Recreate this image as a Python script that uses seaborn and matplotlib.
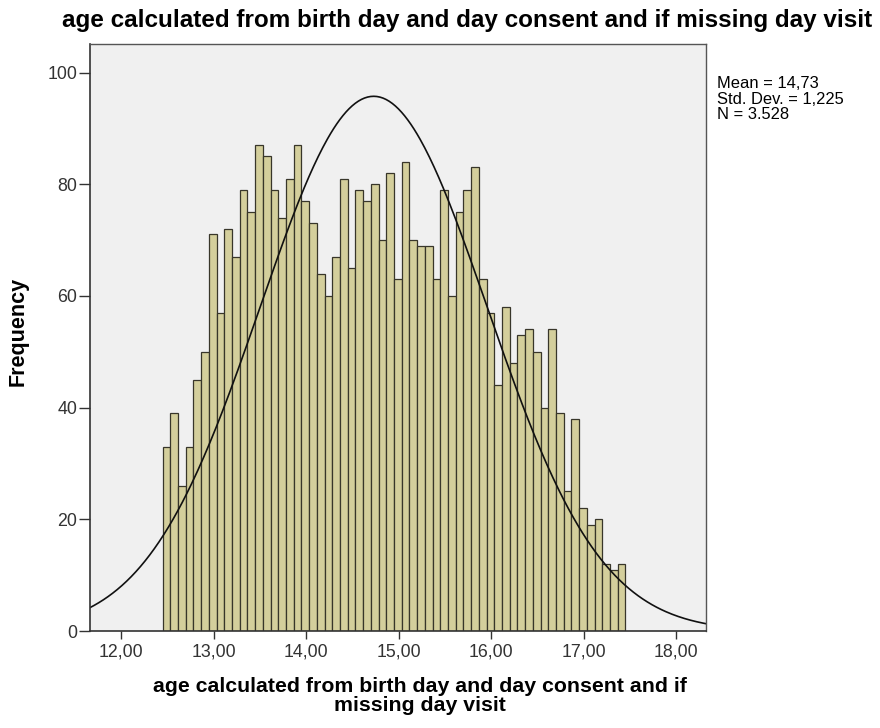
import numpy as np
import pandas as pd
import matplotlib
matplotlib.use("Agg")
import matplotlib.pyplot as plt
import seaborn as sns

# ---- data ----
counts = [33, 39, 26, 33, 45, 50, 71, 57, 72, 67, 79, 75, 87, 85, 79, 74, 81, 87, 77, 73,
          64, 60, 67, 81, 65, 79, 77, 80, 70, 82, 63, 84, 70, 69, 69, 63, 79, 60, 75, 79,
          83, 63, 57, 44, 58, 48, 53, 54, 50, 40, 54, 39, 25, 38, 22, 19, 20, 12, 11, 12]
bin_start = 12.45
bin_width = 1.0 / 12.0
mean_val = 14.73
sd_val = 1.225
n_val = 3528
x_ticks = [12, 13, 14, 15, 16, 17, 18]
x_tick_labels = ["12,00", "13,00", "14,00", "15,00", "16,00", "17,00", "18,00"]
y_ticks = [0, 20, 40, 60, 80, 100]
title = "age calculated from birth day and day consent and if missing day visit"
xlabel = "age calculated from birth day and day consent and if\nmissing day visit"
ylabel = "Frequency"
stats_text = "Mean = 14,73\nStd. Dev. = 1,225\nN = 3.528"

sns.set_style("white")
plt.rcParams['font.family'] = ['Liberation Sans', 'DejaVu Sans']

nb = len(counts)
centers = bin_start + bin_width * (np.arange(nb) + 0.5)
df = pd.DataFrame({"age": centers, "count": counts})

fig = plt.figure(figsize=(8.8, 7.28), dpi=100)
fig.patch.set_facecolor("white")
ax = fig.add_axes([89.5 / 880, 1 - 631 / 728, (706 - 89.5) / 880, (631 - 43.5) / 728])
ax.set_facecolor("#F0F0F0")

sns.histplot(data=df, x="age", weights="count", binwidth=bin_width,
             binrange=(bin_start, bin_start + nb * bin_width), ax=ax,
             color="#D4CF9C", edgecolor="#38362A", linewidth=0.9, alpha=1.0)

xs = np.linspace(11.66, 18.32, 400)
ys = n_val * bin_width / (sd_val * np.sqrt(2 * np.pi)) * np.exp(-0.5 * ((xs - mean_val) / sd_val) ** 2)
sns.lineplot(x=xs, y=ys, ax=ax, color="#111111", linewidth=1.2)

ax.set_xlim(11.66, 18.32)
ax.set_ylim(0, 105.2)
ax.set_xticks(x_ticks)
ax.set_xticklabels(x_tick_labels)
ax.set_yticks(y_ticks)
ax.tick_params(axis="both", which="major", bottom=True, left=True, direction="out",
               width=1, color="#333333", labelcolor="#333333", labelsize=12.8)
ax.tick_params(axis="x", length=6, pad=3)
ax.tick_params(axis="y", length=8, pad=1)
for s in ["top", "right"]:
    ax.spines[s].set_color("#555555")
    ax.spines[s].set_linewidth(1.0)
for s in ["left", "bottom"]:
    ax.spines[s].set_color("#333333")
    ax.spines[s].set_linewidth(1.2)

ax.set_xlabel("")
ax.set_ylabel("")
fig.text(420 / 880, 1 - 696 / 728, xlabel, ha="center", va="center",
         fontsize=15.3, fontweight="bold", color="black", linespacing=1.02)
fig.text(18 / 880, 1 - 331.5 / 728, ylabel, ha="center", va="center", rotation=90,
         fontsize=15.5, fontweight="bold", color="black")
fig.text(467 / 880, 1 - 21 / 728, title, ha="center", va="center",
         fontsize=17.5, fontweight="bold", color="black")
fig.text(717 / 880, 1 - 76 / 728, stats_text, ha="left", va="top",
         fontsize=11.9, color="black", linespacing=1.05)

fig.savefig("out.png", dpi=100, facecolor="white")
